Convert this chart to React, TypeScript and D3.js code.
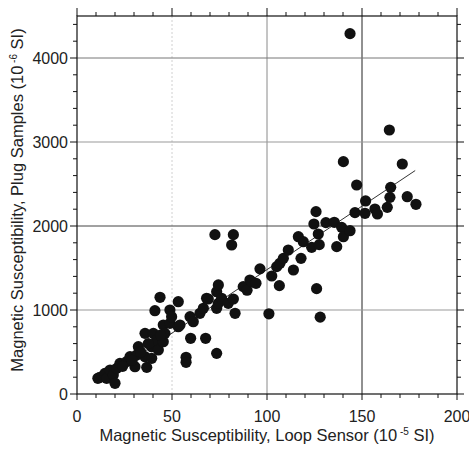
import React from "react";
import * as d3 from "d3";

const loopSensor: number[] = [
  11, 12, 14.7, 15.6, 17.4, 19.1, 20, 20.9, 22.6, 26.1, 27.9, 30.5, 31.4, 32.3, 35.8, 35.8,
  36.7, 39.3, 39.3, 40.2, 41, 41.9, 42.8, 43.7, 45.4, 45.4, 46.3, 48.9, 48.9, 49.8, 53.3, 53.3,
  54.2, 57.4, 57.4, 59.5, 59.8, 61.2, 64.7, 66.5, 67.7, 68.2, 69.1, 72.6, 73.5, 73.5, 73.5, 74.4,
  74.4, 76.1, 79.6, 81.4, 82.3, 82.3, 83.2, 87.5, 89.5, 91, 91.9, 94.2, 96.3, 101, 102.5, 105.1,
  106.5, 106.8, 108.6, 111.2, 113.9, 116.5, 117.9, 119.1, 123.5, 124.7, 125.8, 126.1, 127, 127.5,
  128, 131, 135.4, 136.7, 139.3, 140.2, 140.2, 143.7, 143.7, 146.3, 147.2, 151.6, 151.9, 156.8,
  158.1, 163.3, 164.4, 164.7, 165.1, 171.2, 173.8, 178.4, 24, 29, 33.5, 37.5, 44,
];
const plugSamples: number[] = [
  187, 199, 246, 187, 286, 226, 127, 305, 365, 385, 444, 325, 464, 563, 444, 722,
  317, 563, 425, 722, 992, 643, 524, 1151, 623, 821, 722, 841, 1000, 920, 1099, 801,
  821, 437, 377, 920, 663, 861, 961, 1020, 663, 1139, 1131, 1897, 484, 1020, 1218, 1298,
  1079, 1139, 1079, 1774, 1897, 1131, 961, 1278, 1235, 1357, 1337, 1318, 1490, 955, 1405, 1516,
  1290, 1556, 1615, 1714, 1476, 1873, 1615, 1813, 1746, 2024, 2171, 1254, 1905, 1778,
  915, 2040, 2044, 1754, 1984, 1873, 2766, 1944, 4290, 2159, 2488, 2151, 2298, 2202,
  2143, 2222, 3143, 2341, 2460, 2738, 2349, 2258, 330, 400, 500, 600, 700,
];
const fitX: number[] = [12, 178];
const fitY: number[] = [150, 2660];

const xTicks: number[] = [0, 50, 100, 150, 200];
const yTicks: number[] = [0, 1000, 2000, 3000, 4000];
const xGrid: number[] = [50, 100, 150];
const yGrid: number[] = [1000, 2000, 3000, 4000];

const W = 469, H = 453;
const L = 77, R = 457, T = 16, B = 394;

export default function App() {
  const x = d3.scaleLinear().domain([0, 200]).range([L, R]);
  const y = d3.scaleLinear().domain([0, 4500]).range([B, T]);
  const xMinor = d3.range(0, 201, 10);
  const yMinor = d3.range(0, 4501, 200);
  const gridStyle: Record<number, { s: string; d?: string }> = {
    50: { s: "#d0d0d0", d: "2,2" },
    100: { s: "#8a8a8a" },
    150: { s: "#222" },
  };
  const hGridStyle: Record<number, { s: string; d?: string }> = {
    1000: { s: "#999" },
    2000: { s: "#444" },
    3000: { s: "#999" },
    4000: { s: "#777" },
  };
  const line = d3.line<number>().x((d) => x(d)).y((_, i) => y(fitY[i]));
  const font = "'Liberation Sans', Arial, Helvetica, sans-serif";
  return (
    <svg width={W} height={H} style={{ position: "absolute", left: 0, top: 0, background: "#fff" }}>
      <rect x={0} y={0} width={W} height={H} fill="#fff" />
      {xGrid.map((v) => (
        <line key={"gx" + v} x1={x(v)} x2={x(v)} y1={T} y2={B} stroke={gridStyle[v].s}
          strokeWidth={1} strokeDasharray={gridStyle[v].d} />
      ))}
      {yGrid.map((v) => (
        <line key={"gy" + v} x1={L} x2={R} y1={y(v)} y2={y(v)} stroke={hGridStyle[v].s}
          strokeWidth={1} strokeDasharray={hGridStyle[v].d} />
      ))}
      <rect x={L} y={T} width={R - L} height={B - T} fill="none" stroke="#111" strokeWidth={1.2} />
      {xMinor.map((v) => {
        const major = v % 50 === 0;
        return (
          <g key={"xt" + v} stroke="#111" strokeWidth={1}>
            <line x1={x(v)} x2={x(v)} y1={B} y2={B + (major ? 6 : 4)} />
            <line x1={x(v)} x2={x(v)} y1={T} y2={T - (major ? 8 : 4)} />
          </g>
        );
      })}
      {yMinor.map((v) => {
        const major = v % 1000 === 0;
        return (
          <g key={"yt" + v} stroke="#111" strokeWidth={1}>
            <line x1={L} x2={L - (major ? 7 : 4)} y1={y(v)} y2={y(v)} />
            <line x1={R} x2={R + (major ? 7 : 4)} y1={y(v)} y2={y(v)} />
          </g>
        );
      })}
      <path d={line(fitX) || ""} fill="none" stroke="#333" strokeWidth={1} />
      {loopSensor.map((v, i) => (
        <circle key={"p" + i} cx={x(v)} cy={y(plugSamples[i])} r={5.6} fill="#111" />
      ))}
      {xTicks.map((v) => (
        <text key={"xl" + v} x={x(v)} y={422} textAnchor="middle" fontFamily={font} fontSize={16} fill="#222">
          {v}
        </text>
      ))}
      {yTicks.map((v) => (
        <text key={"yl" + v} x={68} y={y(v) + 6} textAnchor="end" fontFamily={font} fontSize={16} fill="#222">
          {v}
        </text>
      ))}
      <text x={267} y={441} textAnchor="middle" fontFamily={font} fontSize={16.5} fill="#222">
        Magnetic Susceptibility, Loop Sensor (10
        <tspan dy={-6} fontSize={10}> -5</tspan>
        <tspan dy={6}> SI)</tspan>
      </text>
      <text transform={`translate(23,200) rotate(-90)`} textAnchor="middle" fontFamily={font}
        fontSize={16.5} fill="#222">
        Magnetic Susceptibility, Plug Samples (10
        <tspan dy={-6} fontSize={10}> -6</tspan>
        <tspan dy={6}> SI)</tspan>
      </text>
    </svg>
  );
}
